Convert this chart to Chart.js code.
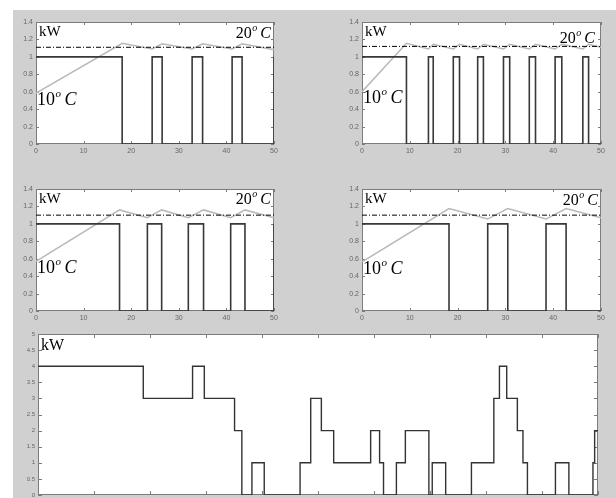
<!DOCTYPE html>
<html>
<head>
<meta charset="utf-8">
<script src="https://cdn.jsdelivr.net/npm/chart.js@4.4.1/dist/chart.umd.min.js"></script>
<style>
  html, body { margin: 0; padding: 0; background: #fff; overflow: hidden; }
  #fig { position: relative; width: 616px; height: 498px; overflow: hidden; }
  #bg { position: absolute; left: 13px; top: 10px; width: 603px; height: 488px; background: #d0d0d0; }
  canvas { position: absolute; }
</style>
</head>
<body>
<div id="fig">
  <div id="bg"></div>
  <canvas id="c1" width="272" height="146" style="left:14px;top:14px"></canvas>
  <canvas id="c2" width="273" height="146" style="left:340px;top:14px"></canvas>
  <canvas id="c3" width="272" height="146" style="left:14px;top:181px"></canvas>
  <canvas id="c4" width="273" height="146" style="left:340px;top:181px"></canvas>
  <canvas id="c5" width="594" height="185" style="left:16px;top:326px"></canvas>
</div>
<script>
// heater power (kW) given at the times it switches, room temperature drawn on the kW scale
const heatT1 = [0, 18.1, 24.4, 26.5, 32.8, 35.0, 41.2, 43.3, 50];
const heatP1 = [1, 0, 1, 0, 1, 0, 1, 0, 1];
const temp1  = [0.585, 1.155, 1.09, 1.15, 1.09, 1.15, 1.09, 1.15, 1.08];

const heatT2 = [0, 9.3, 13.9, 14.9, 19.1, 20.4, 24.2, 25.4, 29.6, 30.9, 35.0, 36.3, 40.4, 41.8, 46.2, 47.4, 50];
const heatP2 = [1, 0, 1, 0, 1, 0, 1, 0, 1, 0, 1, 0, 1, 0, 1, 0, 0];
const temp2  = [0.6, 1.155, 1.09, 1.145, 1.09, 1.145, 1.09, 1.145, 1.09, 1.145, 1.09, 1.145, 1.09, 1.145, 1.09, 1.145, 1.11];

const heatT3 = [0, 17.55, 23.4, 26.4, 32.0, 35.2, 40.9, 43.9, 50];
const heatP3 = [1, 0, 1, 0, 1, 0, 1, 0, 1];
const temp3  = [0.57, 1.16, 1.07, 1.16, 1.07, 1.16, 1.07, 1.16, 1.07];

const heatT4 = [0, 18.2, 26.3, 30.5, 38.5, 42.7, 50];
const heatP4 = [1, 0, 1, 0, 1, 0, 0];
const temp4  = [0.565, 1.175, 1.055, 1.175, 1.055, 1.175, 1.07];

const setpoint = [1.11, 1.12, 1.1, 1.1];

// total load of all heaters, bottom panel
const loadT = [0, 9.4, 13.8, 14.85, 17.55, 18.2, 19.1, 20.2, 23.4, 24.35, 25.3, 26.4, 29.7, 30.5, 30.85,
               32.0, 32.8, 34.9, 35.2, 36.4, 38.7, 40.7, 41.2, 41.85, 42.8, 43.3, 43.7, 46.2, 47.4, 49.55, 49.7, 50];
const loadP = [4, 3, 4, 3, 2, 0, 1, 0, 1, 3, 2, 1, 2, 1, 0,
               1, 2, 0, 1, 0, 1, 3, 4, 3, 2, 1, 0, 1, 0, 1, 2, 2];

const pts = (xs, ys) => xs.map((x, i) => ({ x: x, y: ys[i] }));

function degText(ctx, num, x, y, size, right) {
  const big = size + 'px "Liberation Serif"';
  const sup = 'italic ' + Math.round(size * 0.62) + 'px "Liberation Serif"';
  const ital = 'italic ' + size + 'px "Liberation Serif"';
  ctx.font = big; const w1 = ctx.measureText(num).width;
  ctx.font = sup; const w2 = ctx.measureText('o').width;
  ctx.font = ital; const w3 = ctx.measureText('C').width;
  const gap = size * 0.22;
  let x0 = right ? x - (w1 + w2 + gap + w3) : x;
  ctx.font = big; ctx.fillText(num, x0, y);
  ctx.font = sup; ctx.fillText('o', x0 + w1 + 0.5, y - size * 0.42);
  ctx.font = ital; ctx.fillText('C', x0 + w1 + w2 + gap, y);
}

const frame = {
  id: 'frame',
  beforeDraw(chart) {
    const { ctx, chartArea: a } = chart;
    ctx.save();
    ctx.fillStyle = '#fff';
    ctx.fillRect(a.left, a.top, a.width, a.height);
    ctx.restore();
  },
  beforeDatasetsDraw(chart, args, opts) {
    const { ctx, chartArea: a, scales } = chart;
    ctx.save();
    ctx.strokeStyle = '#7c7c7c';
    ctx.lineWidth = 1;
    ctx.strokeRect(a.left + 0.5, a.top + 0.5, a.width - 1, a.height - 1);
    ctx.beginPath();
    scales.x.ticks.forEach(t => {
      const px = Math.round(scales.x.getPixelForValue(t.value)) + 0.5;
      ctx.moveTo(px, a.bottom); ctx.lineTo(px, a.bottom - opts.tick);
      ctx.moveTo(px, a.top); ctx.lineTo(px, a.top + opts.tick);
    });
    scales.y.ticks.forEach(t => {
      const py = Math.round(scales.y.getPixelForValue(t.value)) + 0.5;
      ctx.moveTo(a.left, py); ctx.lineTo(a.left + opts.tick, py);
      ctx.moveTo(a.right, py); ctx.lineTo(a.right - opts.tick, py);
    });
    ctx.stroke();
    ctx.restore();
  },
  afterDatasetsDraw(chart, args, opts) {
    const { ctx, chartArea: a } = chart;
    ctx.save();
    ctx.fillStyle = '#000';
    ctx.textBaseline = 'alphabetic';
    ctx.font = opts.kwSize + 'px "Liberation Serif"';
    ctx.fillText('kW', a.left + 3, a.top + opts.kwY);
    if (opts.hot) degText(ctx, '20', a.right - opts.hot[0], a.top + opts.hot[1], 16, true);
    if (opts.cold) degText(ctx, '10', a.left + 1, a.top + opts.cold, 18, false);
    ctx.restore();
  }
};

function scaleOpts(min, max, step, fit, size) {
  return {
    type: 'linear', min: min, max: max,
    afterFit: fit,
    grid: { display: false, drawTicks: false },
    border: { display: false },
    ticks: {
      stepSize: step, autoSkip: false, maxRotation: 0, padding: 3,
      callback: v => String(+v.toFixed(2)),
      color: '#666', font: { size: size, family: '"Liberation Sans", Arial' }
    }
  };
}

function panel(id, datasets, o) {
  new Chart(document.getElementById(id), {
    type: 'line',
    data: { datasets: datasets },
    options: {
      responsive: false, animation: false, devicePixelRatio: 1,
      layout: { padding: { top: 8, right: 12 } },
      elements: { point: { radius: 0 }, line: { tension: 0 } },
      plugins: { legend: { display: false }, tooltip: { enabled: false }, frame: o.frame },
      scales: {
        x: scaleOpts(0, 50, o.xStep, s => { s.height = 16; }, 7),
        y: scaleOpts(0, o.yMax, o.yStep, s => { s.width = 22; }, o.ySize)
      }
    },
    plugins: [frame]
  });
}

function smallPanel(id, heatT, heatP, temp, sp, hot, cold) {
  panel(id, [
    { data: [{ x: 0, y: sp }, { x: 50, y: sp }], borderColor: '#000', borderWidth: 1, borderDash: [5, 2, 1, 2] },
    { data: pts(heatT, heatP), stepped: true, borderColor: '#383838', borderWidth: 1.6 },
    { data: pts(heatT, temp), borderColor: '#b8b8b8', borderWidth: 1.5 }
  ], {
    xStep: 10, yMax: 1.4, yStep: 0.2, ySize: 7,
    frame: { tick: 3, kwSize: 15, kwY: 14, hot: hot, cold: cold }
  });
}

smallPanel('c1', heatT1, heatP1, temp1, setpoint[0], [3, 16], 83);
smallPanel('c2', heatT2, heatP2, temp2, setpoint[1], [6, 21], 81);
smallPanel('c3', heatT3, heatP3, temp3, setpoint[2], [3, 15], 84);
smallPanel('c4', heatT4, heatP4, temp4, setpoint[3], [3, 16], 85);

panel('c5', [
  { data: pts(loadT, loadP), stepped: true, borderColor: '#333', borderWidth: 1.4 }
], {
  xStep: 5, yMax: 5, yStep: 0.5, ySize: 6,
  frame: { tick: 4, kwSize: 16, kwY: 16 }
});
</script>
</body>
</html>
